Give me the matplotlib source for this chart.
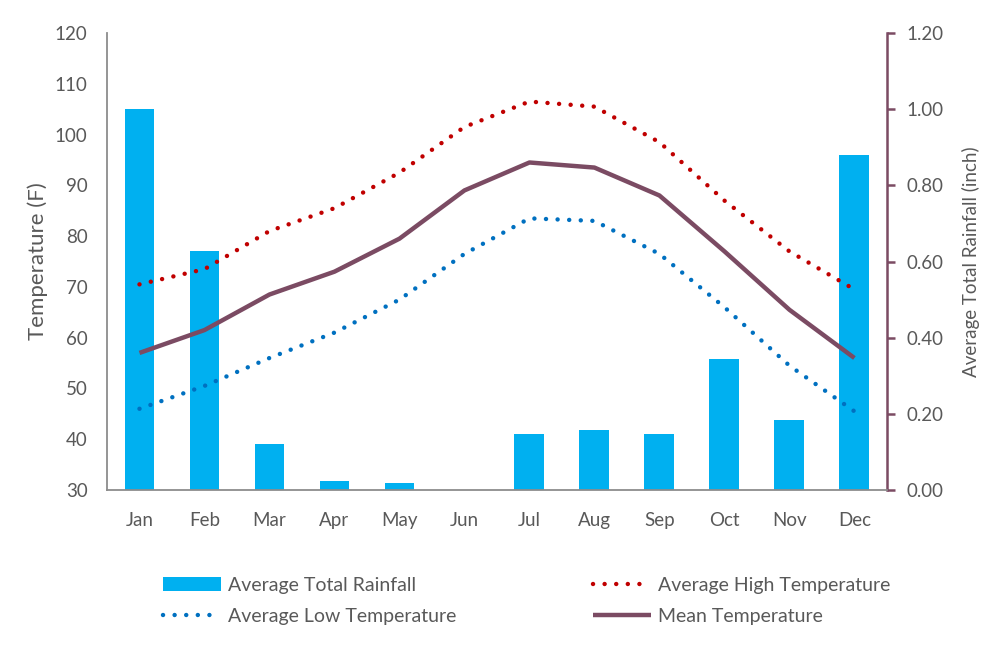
import matplotlib
matplotlib.use("Agg")
import matplotlib.pyplot as plt
import numpy as np

# monthly climate values
months = ["Jan", "Feb", "Mar", "Apr", "May", "Jun", "Jul", "Aug", "Sep", "Oct", "Nov", "Dec"]
rainfall = [1.00, 0.627, 0.12, 0.023, 0.019, 0.0, 0.147, 0.157, 0.147, 0.344, 0.184, 0.88]
high_temp = [70.5, 73.5, 81, 85.5, 92.5, 101.5, 106.5, 105.5, 98.5, 87, 77, 69.5]
low_temp = [46, 50.5, 56, 61, 67.5, 76.5, 83.5, 83, 76.5, 66, 54.5, 45.5]
mean_temp = [57, 61.5, 68.5, 73, 79.5, 89, 94.5, 93.5, 88, 77, 65.5, 56]

plt.rcParams['font.family'] = ['Lato', 'DejaVu Sans']
grey = "#595959"
purple = "#7B4B63"

fig = plt.figure(figsize=(9.86, 6.56), dpi=100)
ax = fig.add_axes([0.1085, 0.253, 0.791, 0.6967])
ax2 = ax.twinx()

x = np.arange(len(months))

# rainfall bars on the right axis, drawn below the temperature lines
ax2.bar(x, rainfall, width=0.46, color="#00B0F0", label="Average Total Rainfall", zorder=1)
ax2.set_ylim(0, 1.2)
ax2.set_yticks(np.arange(0, 1.21, 0.2))
ax2.set_yticklabels(["%.2f" % v for v in np.arange(0, 1.21, 0.2)])

ax.set_zorder(ax2.get_zorder() + 1)
ax.patch.set_visible(False)

dots = (0, (0.01, 2.6))
l_high, = ax.plot(x, high_temp, color="#C00000", lw=3.2, linestyle=dots,
                  dash_capstyle="round", label="Average High Temperature")
l_low, = ax.plot(x, low_temp, color="#0070C0", lw=3.2, linestyle=dots,
                 dash_capstyle="round", label="Average Low Temperature")
l_mean, = ax.plot(x, mean_temp, color=purple, lw=3.2, label="Mean Temperature",
                  solid_capstyle="butt")

ax.set_xlim(-0.5, 11.5)
ax.set_ylim(30, 120)
ax.set_yticks(range(30, 121, 10))
ax.set_xticks(x)
ax.set_xticklabels(months)

ax.set_ylabel("Temperature (F)", color=grey, fontsize=16, labelpad=5)
ax2.set_ylabel("Average Total Rainfall (inch)", color=grey, fontsize=13.5, labelpad=13)

for a in (ax, ax2):
    for s in a.spines.values():
        s.set_visible(False)

ax.spines["left"].set_visible(True)
ax.spines["left"].set_color("#8c8c8c")
ax.spines["left"].set_linewidth(1.3)
ax.spines["bottom"].set_visible(True)
ax.spines["bottom"].set_color("#8c8c8c")
ax.spines["bottom"].set_linewidth(1.3)
ax2.spines["right"].set_visible(True)
ax2.spines["right"].set_color(purple)
ax2.spines["right"].set_linewidth(1.8)

ax.tick_params(axis="both", length=0, labelcolor=grey, labelsize=13.5)
ax.tick_params(axis="x", pad=16)
ax.tick_params(axis="y", pad=14)
ax2.tick_params(axis="y", direction="out", length=6, width=1.8, color=purple,
                labelcolor=grey, labelsize=13.5, pad=8)

bar_handle = ax2.patches[0]
fig.legend([bar_handle, l_low, l_high, l_mean],
           ["Average Total Rainfall", "Average Low Temperature",
            "Average High Temperature", "Mean Temperature"],
           ncol=2, loc="center", bbox_to_anchor=(0.534, 0.084), frameon=False,
           fontsize=14, labelcolor=grey, handlelength=3.0, handletextpad=0.35,
           columnspacing=7.0, labelspacing=0.7)

fig.savefig("out.png", dpi=100)
